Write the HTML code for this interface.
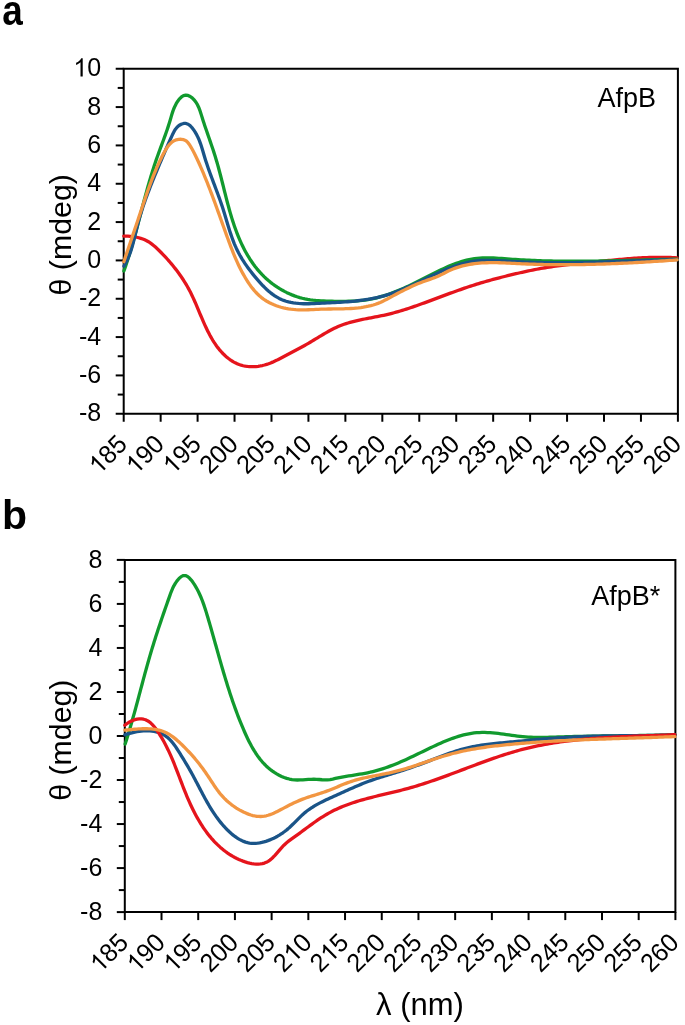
<!DOCTYPE html>
<html><head><meta charset="utf-8"><style>
html,body{margin:0;padding:0;background:#fff;}
svg{display:block;}
#w{width:685px;height:1025px;overflow:hidden;will-change:transform;}
text{font-family:"Liberation Sans", sans-serif;fill:#000;}
.t{font-size:25px;}
.n{font-size:27px;}
.T{font-size:30.3px;}
.X{font-size:31px;}
.L{font-size:41px;font-weight:bold;}
</style></head><body>
<div id="w"><svg width="685" height="1025" viewBox="0 0 685 1025">
<path d="M123.70,68.75 H677.90 V413.75 H123.70 Z" fill="none" stroke="#000" stroke-width="2"/>
<line x1="115.70" y1="413.75" x2="123.70" y2="413.75" stroke="#000" stroke-width="2"/>
<line x1="117.70" y1="394.58" x2="123.70" y2="394.58" stroke="#000" stroke-width="2"/>
<line x1="115.70" y1="375.42" x2="123.70" y2="375.42" stroke="#000" stroke-width="2"/>
<line x1="117.70" y1="356.25" x2="123.70" y2="356.25" stroke="#000" stroke-width="2"/>
<line x1="115.70" y1="337.08" x2="123.70" y2="337.08" stroke="#000" stroke-width="2"/>
<line x1="117.70" y1="317.92" x2="123.70" y2="317.92" stroke="#000" stroke-width="2"/>
<line x1="115.70" y1="298.75" x2="123.70" y2="298.75" stroke="#000" stroke-width="2"/>
<line x1="117.70" y1="279.58" x2="123.70" y2="279.58" stroke="#000" stroke-width="2"/>
<line x1="115.70" y1="260.42" x2="123.70" y2="260.42" stroke="#000" stroke-width="2"/>
<line x1="117.70" y1="241.25" x2="123.70" y2="241.25" stroke="#000" stroke-width="2"/>
<line x1="115.70" y1="222.08" x2="123.70" y2="222.08" stroke="#000" stroke-width="2"/>
<line x1="117.70" y1="202.92" x2="123.70" y2="202.92" stroke="#000" stroke-width="2"/>
<line x1="115.70" y1="183.75" x2="123.70" y2="183.75" stroke="#000" stroke-width="2"/>
<line x1="117.70" y1="164.58" x2="123.70" y2="164.58" stroke="#000" stroke-width="2"/>
<line x1="115.70" y1="145.42" x2="123.70" y2="145.42" stroke="#000" stroke-width="2"/>
<line x1="117.70" y1="126.25" x2="123.70" y2="126.25" stroke="#000" stroke-width="2"/>
<line x1="115.70" y1="107.08" x2="123.70" y2="107.08" stroke="#000" stroke-width="2"/>
<line x1="117.70" y1="87.92" x2="123.70" y2="87.92" stroke="#000" stroke-width="2"/>
<line x1="115.70" y1="68.75" x2="123.70" y2="68.75" stroke="#000" stroke-width="2"/>
<line x1="123.70" y1="413.75" x2="123.70" y2="421.75" stroke="#000" stroke-width="2"/>
<line x1="160.65" y1="413.75" x2="160.65" y2="421.75" stroke="#000" stroke-width="2"/>
<line x1="197.59" y1="413.75" x2="197.59" y2="421.75" stroke="#000" stroke-width="2"/>
<line x1="234.54" y1="413.75" x2="234.54" y2="421.75" stroke="#000" stroke-width="2"/>
<line x1="271.49" y1="413.75" x2="271.49" y2="421.75" stroke="#000" stroke-width="2"/>
<line x1="308.43" y1="413.75" x2="308.43" y2="421.75" stroke="#000" stroke-width="2"/>
<line x1="345.38" y1="413.75" x2="345.38" y2="421.75" stroke="#000" stroke-width="2"/>
<line x1="382.33" y1="413.75" x2="382.33" y2="421.75" stroke="#000" stroke-width="2"/>
<line x1="419.27" y1="413.75" x2="419.27" y2="421.75" stroke="#000" stroke-width="2"/>
<line x1="456.22" y1="413.75" x2="456.22" y2="421.75" stroke="#000" stroke-width="2"/>
<line x1="493.17" y1="413.75" x2="493.17" y2="421.75" stroke="#000" stroke-width="2"/>
<line x1="530.11" y1="413.75" x2="530.11" y2="421.75" stroke="#000" stroke-width="2"/>
<line x1="567.06" y1="413.75" x2="567.06" y2="421.75" stroke="#000" stroke-width="2"/>
<line x1="604.01" y1="413.75" x2="604.01" y2="421.75" stroke="#000" stroke-width="2"/>
<line x1="640.95" y1="413.75" x2="640.95" y2="421.75" stroke="#000" stroke-width="2"/>
<line x1="677.90" y1="413.75" x2="677.90" y2="421.75" stroke="#000" stroke-width="2"/>
<g transform="translate(101.20 421.45) scale(1 1.035) translate(-101.20 -421.45)"><text class="t" x="101.20" y="421.45" text-anchor="end" style="font-size:25px">-8</text></g>
<g transform="translate(101.20 383.12) scale(1 1.035) translate(-101.20 -383.12)"><text class="t" x="101.20" y="383.12" text-anchor="end" style="font-size:25px">-6</text></g>
<g transform="translate(101.20 344.78) scale(1 1.035) translate(-101.20 -344.78)"><text class="t" x="101.20" y="344.78" text-anchor="end" style="font-size:25px">-4</text></g>
<g transform="translate(101.20 306.45) scale(1 1.035) translate(-101.20 -306.45)"><text class="t" x="101.20" y="306.45" text-anchor="end" style="font-size:25px">-2</text></g>
<g transform="translate(101.20 268.12) scale(1 1.035) translate(-101.20 -268.12)"><text class="t" x="101.20" y="268.12" text-anchor="end" style="font-size:25px">0</text></g>
<g transform="translate(101.20 229.78) scale(1 1.035) translate(-101.20 -229.78)"><text class="t" x="101.20" y="229.78" text-anchor="end" style="font-size:25px">2</text></g>
<g transform="translate(101.20 191.45) scale(1 1.035) translate(-101.20 -191.45)"><text class="t" x="101.20" y="191.45" text-anchor="end" style="font-size:25px">4</text></g>
<g transform="translate(101.20 153.12) scale(1 1.035) translate(-101.20 -153.12)"><text class="t" x="101.20" y="153.12" text-anchor="end" style="font-size:25px">6</text></g>
<g transform="translate(101.20 114.78) scale(1 1.035) translate(-101.20 -114.78)"><text class="t" x="101.20" y="114.78" text-anchor="end" style="font-size:25px">8</text></g>
<g transform="translate(101.20 76.45) scale(1 1.035) translate(-101.20 -76.45)"><text class="t" x="101.20" y="76.45" text-anchor="end" style="font-size:25px"> 0</text><path d="M763 0H583V1147Q518 1085 412 1023Q306 961 222 930V1104Q373 1175 486 1276Q599 1377 646 1472H763Z" transform="translate(73.392 76.450) scale(0.01221 -0.01194)"/></g>
<g transform="rotate(-45 128.70 445.75)"><g transform="translate(128.70 445.75) scale(1 1.035) translate(-128.70 -445.75)"><text class="t" x="128.70" y="445.75" text-anchor="end" style="font-size:25px"> 85</text><path d="M763 0H583V1147Q518 1085 412 1023Q306 961 222 930V1104Q373 1175 486 1276Q599 1377 646 1472H763Z" transform="translate(86.989 445.750) scale(0.01221 -0.01194)"/></g></g>
<g transform="rotate(-45 165.65 445.75)"><g transform="translate(165.65 445.75) scale(1 1.035) translate(-165.65 -445.75)"><text class="t" x="165.65" y="445.75" text-anchor="end" style="font-size:25px"> 90</text><path d="M763 0H583V1147Q518 1085 412 1023Q306 961 222 930V1104Q373 1175 486 1276Q599 1377 646 1472H763Z" transform="translate(123.935 445.750) scale(0.01221 -0.01194)"/></g></g>
<g transform="rotate(-45 202.59 445.75)"><g transform="translate(202.59 445.75) scale(1 1.035) translate(-202.59 -445.75)"><text class="t" x="202.59" y="445.75" text-anchor="end" style="font-size:25px"> 95</text><path d="M763 0H583V1147Q518 1085 412 1023Q306 961 222 930V1104Q373 1175 486 1276Q599 1377 646 1472H763Z" transform="translate(160.882 445.750) scale(0.01221 -0.01194)"/></g></g>
<g transform="rotate(-45 239.54 445.75)"><g transform="translate(239.54 445.75) scale(1 1.035) translate(-239.54 -445.75)"><text class="t" x="239.54" y="445.75" text-anchor="end" style="font-size:25px">200</text></g></g>
<g transform="rotate(-45 276.49 445.75)"><g transform="translate(276.49 445.75) scale(1 1.035) translate(-276.49 -445.75)"><text class="t" x="276.49" y="445.75" text-anchor="end" style="font-size:25px">205</text></g></g>
<g transform="rotate(-45 313.43 445.75)"><g transform="translate(313.43 445.75) scale(1 1.035) translate(-313.43 -445.75)"><text class="t" x="313.43" y="445.75" text-anchor="end" style="font-size:25px">2 0</text><path d="M763 0H583V1147Q518 1085 412 1023Q306 961 222 930V1104Q373 1175 486 1276Q599 1377 646 1472H763Z" transform="translate(285.626 445.750) scale(0.01221 -0.01194)"/></g></g>
<g transform="rotate(-45 350.38 445.75)"><g transform="translate(350.38 445.75) scale(1 1.035) translate(-350.38 -445.75)"><text class="t" x="350.38" y="445.75" text-anchor="end" style="font-size:25px">2 5</text><path d="M763 0H583V1147Q518 1085 412 1023Q306 961 222 930V1104Q373 1175 486 1276Q599 1377 646 1472H763Z" transform="translate(322.572 445.750) scale(0.01221 -0.01194)"/></g></g>
<g transform="rotate(-45 387.33 445.75)"><g transform="translate(387.33 445.75) scale(1 1.035) translate(-387.33 -445.75)"><text class="t" x="387.33" y="445.75" text-anchor="end" style="font-size:25px">220</text></g></g>
<g transform="rotate(-45 424.27 445.75)"><g transform="translate(424.27 445.75) scale(1 1.035) translate(-424.27 -445.75)"><text class="t" x="424.27" y="445.75" text-anchor="end" style="font-size:25px">225</text></g></g>
<g transform="rotate(-45 461.22 445.75)"><g transform="translate(461.22 445.75) scale(1 1.035) translate(-461.22 -445.75)"><text class="t" x="461.22" y="445.75" text-anchor="end" style="font-size:25px">230</text></g></g>
<g transform="rotate(-45 498.17 445.75)"><g transform="translate(498.17 445.75) scale(1 1.035) translate(-498.17 -445.75)"><text class="t" x="498.17" y="445.75" text-anchor="end" style="font-size:25px">235</text></g></g>
<g transform="rotate(-45 535.11 445.75)"><g transform="translate(535.11 445.75) scale(1 1.035) translate(-535.11 -445.75)"><text class="t" x="535.11" y="445.75" text-anchor="end" style="font-size:25px">240</text></g></g>
<g transform="rotate(-45 572.06 445.75)"><g transform="translate(572.06 445.75) scale(1 1.035) translate(-572.06 -445.75)"><text class="t" x="572.06" y="445.75" text-anchor="end" style="font-size:25px">245</text></g></g>
<g transform="rotate(-45 609.01 445.75)"><g transform="translate(609.01 445.75) scale(1 1.035) translate(-609.01 -445.75)"><text class="t" x="609.01" y="445.75" text-anchor="end" style="font-size:25px">250</text></g></g>
<g transform="rotate(-45 645.95 445.75)"><g transform="translate(645.95 445.75) scale(1 1.035) translate(-645.95 -445.75)"><text class="t" x="645.95" y="445.75" text-anchor="end" style="font-size:25px">255</text></g></g>
<g transform="rotate(-45 682.90 445.75)"><g transform="translate(682.90 445.75) scale(1 1.035) translate(-682.90 -445.75)"><text class="t" x="682.90" y="445.75" text-anchor="end" style="font-size:25px">260</text></g></g>
<text class="n" x="597.5" y="107.4">AfpB</text>
<path d="M123.77,236.09 L125.89,236.10 L128.03,236.18 L130.17,236.33 L132.33,236.55 L134.47,236.86 L136.59,237.25 L138.69,237.74 L140.76,238.32 L142.78,239.01 L144.74,239.80 L146.64,240.71 L148.47,241.74 L150.23,242.88 L151.93,244.11 L153.58,245.43 L155.18,246.81 L156.75,248.25 L158.30,249.73 L159.82,251.23 L161.33,252.75 L162.83,254.29 L164.30,255.85 L165.77,257.42 L167.21,259.01 L168.63,260.62 L170.04,262.24 L171.43,263.88 L172.80,265.53 L174.14,267.20 L175.47,268.87 L176.77,270.57 L178.05,272.28 L179.30,274.00 L180.53,275.74 L181.74,277.49 L182.92,279.26 L184.07,281.05 L185.19,282.85 L186.29,284.67 L187.35,286.50 L188.39,288.35 L189.39,290.22 L190.37,292.10 L191.31,294.00 L192.24,295.91 L193.14,297.84 L194.02,299.77 L194.88,301.72 L195.74,303.67 L196.58,305.63 L197.41,307.60 L198.24,309.57 L199.07,311.54 L199.89,313.52 L200.72,315.50 L201.56,317.47 L202.40,319.45 L203.25,321.42 L204.12,323.39 L205.01,325.35 L205.91,327.30 L206.84,329.25 L207.79,331.19 L208.77,333.11 L209.77,335.02 L210.81,336.90 L211.89,338.77 L212.99,340.61 L214.14,342.42 L215.33,344.19 L216.56,345.94 L217.83,347.64 L219.15,349.31 L220.52,350.93 L221.94,352.51 L223.42,354.04 L224.95,355.51 L226.54,356.93 L228.18,358.28 L229.88,359.55 L231.63,360.75 L233.43,361.85 L235.28,362.86 L237.18,363.76 L239.13,364.55 L241.13,365.21 L243.17,365.75 L245.25,366.17 L247.36,366.47 L249.50,366.65 L251.66,366.72 L253.82,366.68 L255.99,366.54 L258.16,366.29 L260.31,365.95 L262.44,365.52 L264.55,365.00 L266.62,364.40 L268.66,363.71 L270.65,362.96 L272.60,362.14 L274.53,361.27 L276.44,360.36 L278.32,359.41 L280.20,358.44 L282.07,357.46 L283.95,356.47 L285.82,355.49 L287.70,354.51 L289.59,353.52 L291.47,352.54 L293.36,351.55 L295.24,350.55 L297.12,349.55 L299.01,348.54 L300.89,347.52 L302.76,346.49 L304.63,345.45 L306.49,344.39 L308.35,343.32 L310.20,342.23 L312.05,341.13 L313.89,340.02 L315.72,338.91 L317.56,337.79 L319.39,336.68 L321.23,335.57 L323.07,334.47 L324.91,333.39 L326.77,332.32 L328.63,331.28 L330.50,330.27 L332.38,329.29 L334.28,328.34 L336.19,327.43 L338.12,326.57 L340.06,325.75 L342.03,324.98 L344.02,324.27 L346.02,323.59 L348.04,322.96 L350.08,322.37 L352.13,321.81 L354.19,321.28 L356.26,320.78 L358.35,320.31 L360.44,319.85 L362.54,319.42 L364.65,319.00 L366.76,318.59 L368.87,318.18 L370.99,317.78 L373.10,317.39 L375.22,316.98 L377.34,316.58 L379.45,316.16 L381.56,315.73 L383.66,315.29 L385.75,314.82 L387.84,314.33 L389.92,313.83 L391.99,313.30 L394.06,312.75 L396.12,312.19 L398.17,311.61 L400.22,311.01 L402.26,310.39 L404.30,309.76 L406.33,309.12 L408.36,308.46 L410.38,307.79 L412.40,307.11 L414.41,306.42 L416.43,305.72 L418.43,305.01 L420.44,304.29 L422.45,303.57 L424.45,302.84 L426.45,302.10 L428.45,301.36 L430.45,300.62 L432.44,299.87 L434.44,299.13 L436.44,298.38 L438.43,297.63 L440.43,296.88 L442.43,296.13 L444.43,295.39 L446.43,294.65 L448.43,293.91 L450.44,293.17 L452.44,292.44 L454.45,291.72 L456.46,291.00 L458.47,290.28 L460.48,289.57 L462.50,288.87 L464.52,288.18 L466.54,287.49 L468.57,286.81 L470.59,286.14 L472.62,285.48 L474.66,284.83 L476.70,284.20 L478.74,283.57 L480.79,282.95 L482.84,282.34 L484.89,281.74 L486.94,281.16 L489.00,280.58 L491.06,280.01 L493.12,279.44 L495.19,278.89 L497.25,278.34 L499.32,277.80 L501.39,277.27 L503.46,276.75 L505.53,276.23 L507.61,275.72 L509.68,275.21 L511.76,274.71 L513.83,274.21 L515.91,273.72 L517.98,273.24 L520.06,272.76 L522.14,272.29 L524.21,271.83 L526.29,271.38 L528.38,270.93 L530.46,270.50 L532.54,270.07 L534.63,269.65 L536.72,269.25 L538.81,268.85 L540.91,268.47 L543.00,268.10 L545.10,267.75 L547.20,267.40 L549.31,267.07 L551.42,266.76 L553.53,266.45 L555.64,266.16 L557.76,265.88 L559.88,265.61 L562.00,265.35 L564.12,265.10 L566.25,264.86 L568.37,264.62 L570.50,264.39 L572.63,264.16 L574.76,263.94 L576.89,263.73 L579.02,263.51 L581.15,263.30 L583.28,263.09 L585.41,262.88 L587.54,262.66 L589.66,262.45 L591.79,262.24 L593.92,262.02 L596.04,261.80 L598.17,261.58 L600.29,261.36 L602.42,261.15 L604.54,260.93 L606.67,260.71 L608.79,260.50 L610.91,260.28 L613.03,260.08 L615.16,259.87 L617.28,259.67 L619.40,259.47 L621.52,259.28 L623.65,259.10 L625.77,258.92 L627.89,258.74 L630.02,258.58 L632.14,258.42 L634.27,258.27 L636.39,258.13 L638.52,258.00 L640.65,257.88 L642.77,257.77 L644.90,257.67 L647.03,257.58 L649.17,257.50 L651.30,257.44 L653.43,257.39 L655.57,257.35 L657.71,257.33 L659.84,257.32 L661.98,257.33 L664.13,257.35 L666.27,257.39 L668.42,257.44 L670.56,257.52 L672.71,257.61 L674.86,257.72 L677.02,257.85" fill="none" stroke="#e5141c" stroke-width="3.3" stroke-linejoin="round" stroke-linecap="round"/>
<path d="M123.90,271.05 L124.81,268.45 L125.69,265.86 L126.56,263.25 L127.41,260.65 L128.25,258.03 L129.06,255.42 L129.87,252.80 L130.66,250.18 L131.43,247.55 L132.20,244.92 L132.95,242.29 L133.69,239.65 L134.43,237.02 L135.15,234.38 L135.87,231.74 L136.58,229.09 L137.29,226.45 L137.99,223.80 L138.69,221.16 L139.38,218.51 L140.08,215.86 L140.77,213.22 L141.47,210.57 L142.16,207.92 L142.86,205.28 L143.56,202.63 L144.26,199.99 L144.97,197.34 L145.69,194.70 L146.41,192.06 L147.14,189.42 L147.88,186.79 L148.63,184.16 L149.39,181.53 L150.16,178.90 L150.94,176.28 L151.74,173.66 L152.55,171.04 L153.38,168.43 L154.22,165.82 L155.08,163.22 L155.96,160.62 L156.86,158.02 L157.78,155.43 L158.71,152.85 L159.66,150.27 L160.61,147.69 L161.57,145.12 L162.52,142.55 L163.47,139.98 L164.41,137.41 L165.34,134.84 L166.25,132.27 L167.14,129.71 L168.01,127.13 L168.84,124.56 L169.64,121.99 L170.40,119.41 L171.14,116.83 L171.90,114.24 L172.74,111.63 L173.70,109.01 L174.83,106.38 L176.18,103.73 L177.76,101.16 L179.53,98.85 L181.46,96.96 L183.54,95.65 L185.74,95.11 L188.01,95.44 L190.27,96.52 L192.44,98.17 L194.43,100.23 L196.14,102.52 L197.56,104.94 L198.75,107.47 L199.76,110.06 L200.65,112.71 L201.48,115.37 L202.31,118.03 L203.15,120.67 L204.00,123.29 L204.87,125.90 L205.75,128.50 L206.64,131.08 L207.53,133.66 L208.42,136.23 L209.31,138.80 L210.20,141.37 L211.09,143.93 L211.96,146.50 L212.83,149.07 L213.68,151.64 L214.51,154.22 L215.32,156.82 L216.11,159.42 L216.88,162.04 L217.63,164.66 L218.37,167.30 L219.09,169.95 L219.79,172.60 L220.48,175.26 L221.17,177.92 L221.85,180.59 L222.52,183.26 L223.19,185.93 L223.86,188.61 L224.53,191.29 L225.20,193.96 L225.88,196.64 L226.57,199.31 L227.26,201.98 L227.97,204.64 L228.69,207.30 L229.42,209.95 L230.18,212.59 L230.95,215.23 L231.74,217.86 L232.56,220.47 L233.41,223.07 L234.28,225.67 L235.18,228.24 L236.11,230.81 L237.08,233.35 L238.08,235.88 L239.12,238.40 L240.20,240.89 L241.33,243.37 L242.49,245.82 L243.71,248.26 L244.97,250.67 L246.28,253.05 L247.64,255.41 L249.06,257.73 L250.52,260.03 L252.05,262.28 L253.62,264.50 L255.26,266.68 L256.95,268.82 L258.71,270.91 L260.52,272.95 L262.40,274.93 L264.34,276.87 L266.35,278.74 L268.42,280.56 L270.56,282.32 L272.75,284.01 L274.99,285.63 L277.29,287.18 L279.64,288.66 L282.03,290.07 L284.46,291.39 L286.92,292.64 L289.43,293.80 L291.96,294.88 L294.52,295.86 L297.11,296.76 L299.71,297.56 L302.33,298.26 L304.97,298.87 L307.62,299.38 L310.28,299.82 L312.95,300.17 L315.64,300.46 L318.34,300.69 L321.05,300.87 L323.77,301.00 L326.50,301.10 L329.24,301.18 L331.99,301.23 L334.75,301.28 L337.52,301.32 L340.29,301.34 L343.07,301.34 L345.84,301.31 L348.62,301.26 L351.39,301.17 L354.15,301.04 L356.91,300.86 L359.65,300.64 L362.38,300.36 L365.09,300.03 L367.79,299.63 L370.46,299.16 L373.12,298.63 L375.75,298.04 L378.37,297.38 L380.97,296.67 L383.56,295.90 L386.13,295.09 L388.69,294.22 L391.23,293.31 L393.76,292.36 L396.29,291.36 L398.80,290.33 L401.30,289.26 L403.80,288.16 L406.29,287.03 L408.78,285.88 L411.26,284.70 L413.73,283.49 L416.21,282.27 L418.68,281.04 L421.15,279.79 L423.63,278.53 L426.10,277.27 L428.58,276.00 L431.06,274.73 L433.55,273.47 L436.03,272.23 L438.53,271.00 L441.03,269.80 L443.54,268.62 L446.05,267.48 L448.58,266.38 L451.11,265.33 L453.65,264.32 L456.21,263.37 L458.77,262.47 L461.35,261.65 L463.94,260.89 L466.55,260.21 L469.16,259.61 L471.80,259.10 L474.45,258.68 L477.12,258.35 L479.80,258.12 L482.50,257.97 L485.21,257.89 L487.93,257.88 L490.66,257.92 L493.40,258.01 L496.14,258.14 L498.90,258.31 L501.65,258.49 L504.41,258.70 L507.17,258.90 L509.93,259.11 L512.69,259.30 L515.44,259.49 L518.20,259.66 L520.95,259.82 L523.70,259.97 L526.45,260.12 L529.19,260.25 L531.94,260.37 L534.68,260.49 L537.43,260.59 L540.17,260.69 L542.91,260.78 L545.65,260.85 L548.39,260.93 L551.13,260.99 L553.86,261.04 L556.60,261.09 L559.33,261.13 L562.07,261.16 L564.80,261.19 L567.53,261.21 L570.27,261.22 L573.00,261.23 L575.73,261.23 L578.46,261.23 L581.19,261.22 L583.92,261.20 L586.65,261.18 L589.38,261.16 L592.11,261.13 L594.84,261.09 L597.57,261.05 L600.30,261.01 L603.03,260.97 L605.76,260.92 L608.50,260.86 L611.23,260.81 L613.96,260.75 L616.69,260.69 L619.42,260.62 L622.16,260.55 L624.89,260.49 L627.63,260.42 L630.36,260.35 L633.10,260.27 L635.84,260.20 L638.58,260.12 L641.32,260.05 L644.06,259.97 L646.80,259.90 L649.54,259.82 L652.29,259.75 L655.03,259.67 L657.78,259.60 L660.53,259.52 L663.28,259.45 L666.03,259.38 L668.79,259.31 L671.54,259.24 L674.30,259.18 L677.06,259.11" fill="none" stroke="#119a2e" stroke-width="3.3" stroke-linejoin="round" stroke-linecap="round"/>
<path d="M123.93,266.10 L125.25,263.85 L126.46,261.57 L127.57,259.25 L128.59,256.90 L129.53,254.52 L130.41,252.12 L131.21,249.70 L131.97,247.25 L132.67,244.79 L133.34,242.32 L133.98,239.84 L134.59,237.34 L135.19,234.84 L135.79,232.34 L136.39,229.83 L137.00,227.33 L137.63,224.83 L138.29,222.34 L138.97,219.85 L139.68,217.38 L140.42,214.90 L141.17,212.44 L141.95,209.98 L142.75,207.53 L143.57,205.09 L144.41,202.65 L145.26,200.22 L146.14,197.79 L147.02,195.37 L147.92,192.96 L148.84,190.56 L149.77,188.15 L150.70,185.76 L151.65,183.37 L152.61,180.99 L153.57,178.61 L154.54,176.24 L155.51,173.87 L156.49,171.51 L157.47,169.15 L158.46,166.80 L159.45,164.45 L160.44,162.10 L161.43,159.76 L162.44,157.42 L163.44,155.07 L164.46,152.72 L165.48,150.37 L166.51,148.02 L167.55,145.66 L168.60,143.29 L169.66,140.91 L170.73,138.53 L171.82,136.13 L172.92,133.74 L174.11,131.40 L175.46,129.20 L177.06,127.21 L178.97,125.51 L181.22,124.21 L183.62,123.47 L185.97,123.47 L188.14,124.27 L190.12,125.69 L191.92,127.54 L193.55,129.64 L195.01,131.83 L196.33,134.08 L197.52,136.39 L198.60,138.74 L199.58,141.14 L200.48,143.57 L201.31,146.03 L202.09,148.51 L202.84,151.00 L203.57,153.49 L204.30,155.97 L205.05,158.45 L205.82,160.91 L206.62,163.35 L207.43,165.78 L208.27,168.20 L209.12,170.61 L209.98,173.01 L210.85,175.41 L211.74,177.79 L212.63,180.18 L213.53,182.56 L214.43,184.94 L215.33,187.32 L216.22,189.71 L217.12,192.10 L218.00,194.49 L218.88,196.89 L219.74,199.30 L220.60,201.71 L221.43,204.14 L222.25,206.58 L223.05,209.04 L223.83,211.51 L224.59,213.99 L225.34,216.48 L226.09,218.97 L226.83,221.47 L227.58,223.97 L228.34,226.46 L229.11,228.94 L229.89,231.42 L230.70,233.88 L231.54,236.32 L232.41,238.75 L233.31,241.15 L234.25,243.53 L235.24,245.88 L236.28,248.20 L237.38,250.48 L238.53,252.74 L239.73,254.96 L240.98,257.15 L242.28,259.32 L243.63,261.46 L245.02,263.57 L246.46,265.67 L247.94,267.75 L249.46,269.81 L251.03,271.85 L252.63,273.88 L254.26,275.90 L255.94,277.91 L257.64,279.91 L259.38,281.90 L261.16,283.85 L262.98,285.77 L264.84,287.63 L266.74,289.44 L268.68,291.17 L270.67,292.82 L272.71,294.38 L274.80,295.84 L276.95,297.18 L279.14,298.40 L281.40,299.48 L283.71,300.42 L286.07,301.22 L288.48,301.89 L290.94,302.44 L293.43,302.88 L295.96,303.22 L298.52,303.47 L301.11,303.64 L303.71,303.74 L306.33,303.77 L308.97,303.75 L311.60,303.69 L314.24,303.59 L316.87,303.47 L319.49,303.34 L322.10,303.20 L324.70,303.06 L327.27,302.93 L329.83,302.80 L332.37,302.67 L334.91,302.54 L337.44,302.40 L339.96,302.25 L342.48,302.09 L345.01,301.92 L347.53,301.73 L350.06,301.52 L352.60,301.29 L355.15,301.03 L357.70,300.75 L360.25,300.44 L362.80,300.10 L365.36,299.73 L367.91,299.32 L370.45,298.88 L372.99,298.40 L375.51,297.88 L378.03,297.32 L380.53,296.72 L383.02,296.08 L385.50,295.38 L387.95,294.64 L390.39,293.86 L392.81,293.03 L395.22,292.17 L397.61,291.27 L399.99,290.33 L402.36,289.36 L404.72,288.37 L407.08,287.35 L409.42,286.32 L411.76,285.26 L414.10,284.18 L416.43,283.10 L418.76,282.00 L421.09,280.89 L423.41,279.78 L425.74,278.67 L428.08,277.56 L430.41,276.46 L432.75,275.36 L435.10,274.27 L437.46,273.19 L439.82,272.13 L442.19,271.09 L444.57,270.07 L446.96,269.08 L449.37,268.12 L451.78,267.19 L454.20,266.31 L456.63,265.47 L459.07,264.69 L461.52,263.95 L463.99,263.28 L466.46,262.66 L468.94,262.11 L471.44,261.64 L473.94,261.24 L476.46,260.91 L478.99,260.67 L481.53,260.49 L484.08,260.38 L486.63,260.33 L489.19,260.33 L491.76,260.37 L494.33,260.44 L496.91,260.55 L499.49,260.68 L502.08,260.83 L504.66,260.99 L507.25,261.15 L509.84,261.31 L512.42,261.46 L515.01,261.60 L517.59,261.73 L520.17,261.85 L522.75,261.96 L525.33,262.06 L527.91,262.16 L530.49,262.24 L533.06,262.31 L535.64,262.38 L538.21,262.44 L540.79,262.49 L543.36,262.53 L545.93,262.57 L548.51,262.60 L551.08,262.62 L553.65,262.64 L556.22,262.64 L558.79,262.65 L561.36,262.64 L563.93,262.63 L566.50,262.61 L569.06,262.59 L571.63,262.57 L574.20,262.53 L576.76,262.50 L579.33,262.45 L581.90,262.41 L584.46,262.36 L587.03,262.30 L589.60,262.25 L592.16,262.18 L594.73,262.12 L597.29,262.05 L599.86,261.98 L602.43,261.91 L604.99,261.83 L607.56,261.75 L610.13,261.67 L612.69,261.59 L615.26,261.50 L617.83,261.42 L620.39,261.33 L622.96,261.24 L625.53,261.15 L628.10,261.07 L630.67,260.98 L633.24,260.89 L635.81,260.80 L638.38,260.71 L640.95,260.62 L643.52,260.53 L646.10,260.45 L648.67,260.36 L651.24,260.28 L653.82,260.19 L656.39,260.11 L658.97,260.03 L661.55,259.96 L664.13,259.88 L666.71,259.81 L669.29,259.74 L671.87,259.68 L674.45,259.62 L677.04,259.56" fill="none" stroke="#1a5488" stroke-width="3.3" stroke-linejoin="round" stroke-linecap="round"/>
<path d="M123.81,261.75 L124.59,259.43 L125.37,257.10 L126.16,254.76 L126.96,252.41 L127.75,250.05 L128.55,247.69 L129.36,245.31 L130.16,242.94 L130.97,240.55 L131.78,238.16 L132.59,235.77 L133.40,233.38 L134.21,230.98 L135.02,228.59 L135.83,226.19 L136.64,223.80 L137.45,221.41 L138.25,219.02 L139.05,216.64 L139.85,214.26 L140.64,211.89 L141.43,209.53 L142.22,207.17 L143.00,204.82 L143.78,202.47 L144.57,200.14 L145.36,197.80 L146.15,195.48 L146.96,193.15 L147.77,190.83 L148.59,188.51 L149.42,186.20 L150.27,183.89 L151.14,181.57 L152.02,179.26 L152.92,176.95 L153.85,174.64 L154.79,172.33 L155.77,170.02 L156.76,167.71 L157.79,165.39 L158.85,163.08 L159.94,160.75 L161.06,158.43 L162.22,156.10 L163.42,153.77 L164.67,151.46 L165.98,149.22 L167.38,147.10 L168.89,145.13 L170.51,143.38 L172.27,141.87 L174.19,140.66 L176.29,139.79 L178.58,139.31 L181.07,139.27 L183.69,139.72 L186.03,140.78 L187.85,142.46 L189.32,144.49 L190.66,146.62 L191.93,148.79 L193.14,150.99 L194.30,153.21 L195.41,155.45 L196.49,157.71 L197.55,159.98 L198.59,162.26 L199.62,164.54 L200.63,166.83 L201.63,169.12 L202.61,171.42 L203.58,173.72 L204.54,176.03 L205.49,178.34 L206.43,180.66 L207.36,182.98 L208.28,185.31 L209.19,187.64 L210.09,189.97 L210.98,192.31 L211.87,194.65 L212.75,196.99 L213.62,199.33 L214.49,201.68 L215.35,204.03 L216.21,206.38 L217.06,208.73 L217.91,211.08 L218.76,213.43 L219.60,215.78 L220.45,218.14 L221.29,220.49 L222.13,222.84 L222.98,225.20 L223.82,227.55 L224.66,229.90 L225.51,232.25 L226.36,234.60 L227.21,236.95 L228.07,239.29 L228.93,241.63 L229.80,243.97 L230.68,246.30 L231.57,248.63 L232.48,250.95 L233.41,253.27 L234.36,255.57 L235.33,257.87 L236.32,260.15 L237.34,262.43 L238.39,264.69 L239.47,266.94 L240.59,269.18 L241.74,271.40 L242.93,273.61 L244.16,275.80 L245.43,277.97 L246.75,280.13 L248.12,282.26 L249.54,284.36 L251.02,286.41 L252.55,288.42 L254.15,290.36 L255.81,292.23 L257.55,294.02 L259.35,295.73 L261.23,297.34 L263.19,298.84 L265.22,300.24 L267.32,301.54 L269.49,302.73 L271.71,303.83 L273.98,304.82 L276.31,305.72 L278.67,306.53 L281.07,307.24 L283.49,307.86 L285.94,308.39 L288.42,308.84 L290.90,309.20 L293.39,309.47 L295.89,309.66 L298.39,309.79 L300.90,309.85 L303.41,309.86 L305.92,309.83 L308.43,309.76 L310.93,309.67 L313.44,309.56 L315.95,309.45 L318.45,309.33 L320.95,309.22 L323.44,309.13 L325.93,309.07 L328.41,309.02 L330.89,308.98 L333.37,308.95 L335.85,308.92 L338.34,308.89 L340.82,308.85 L343.32,308.79 L345.81,308.71 L348.32,308.61 L350.83,308.48 L353.36,308.31 L355.88,308.10 L358.40,307.85 L360.92,307.54 L363.43,307.17 L365.91,306.73 L368.38,306.22 L370.82,305.64 L373.22,304.97 L375.59,304.21 L377.92,303.36 L380.21,302.42 L382.46,301.40 L384.69,300.33 L386.90,299.21 L389.11,298.05 L391.30,296.86 L393.50,295.67 L395.70,294.48 L397.91,293.30 L400.14,292.13 L402.38,290.98 L404.62,289.85 L406.88,288.73 L409.15,287.65 L411.42,286.59 L413.70,285.56 L415.99,284.56 L418.29,283.60 L420.59,282.67 L422.89,281.79 L425.21,280.95 L427.52,280.14 L429.84,279.34 L432.16,278.52 L434.47,277.66 L436.79,276.73 L439.09,275.71 L441.40,274.60 L443.70,273.43 L446.00,272.25 L448.31,271.10 L450.64,270.03 L452.98,269.05 L455.34,268.15 L457.70,267.34 L460.08,266.61 L462.48,265.95 L464.88,265.36 L467.30,264.84 L469.72,264.39 L472.16,264.00 L474.60,263.66 L477.06,263.38 L479.52,263.15 L481.99,262.97 L484.47,262.84 L486.95,262.74 L489.44,262.68 L491.93,262.66 L494.43,262.67 L496.94,262.70 L499.44,262.76 L501.95,262.84 L504.47,262.94 L506.98,263.04 L509.50,263.16 L512.01,263.29 L514.53,263.42 L517.05,263.55 L519.57,263.67 L522.08,263.79 L524.59,263.90 L527.11,264.00 L529.62,264.10 L532.13,264.19 L534.63,264.27 L537.14,264.34 L539.65,264.41 L542.15,264.47 L544.65,264.53 L547.16,264.57 L549.66,264.61 L552.16,264.64 L554.66,264.67 L557.16,264.69 L559.65,264.71 L562.15,264.71 L564.65,264.72 L567.14,264.71 L569.64,264.70 L572.13,264.68 L574.63,264.66 L577.12,264.63 L579.61,264.60 L582.11,264.56 L584.60,264.52 L587.09,264.47 L589.58,264.41 L592.07,264.36 L594.57,264.29 L597.06,264.22 L599.55,264.15 L602.04,264.07 L604.53,263.98 L607.02,263.89 L609.52,263.80 L612.01,263.70 L614.50,263.60 L616.99,263.50 L619.49,263.39 L621.98,263.27 L624.48,263.16 L626.97,263.03 L629.47,262.91 L631.96,262.78 L634.46,262.65 L636.96,262.51 L639.45,262.37 L641.95,262.23 L644.45,262.08 L646.95,261.93 L649.45,261.78 L651.96,261.63 L654.46,261.47 L656.97,261.31 L659.47,261.15 L661.98,260.98 L664.49,260.81 L667.00,260.64 L669.51,260.47 L672.02,260.30 L674.53,260.12 L677.05,259.94" fill="none" stroke="#f29642" stroke-width="3.3" stroke-linejoin="round" stroke-linecap="round"/>
<path d="M124.80,559.90 H675.40 V912.10 H124.80 Z" fill="none" stroke="#000" stroke-width="2"/>
<line x1="116.80" y1="912.10" x2="124.80" y2="912.10" stroke="#000" stroke-width="2"/>
<line x1="118.80" y1="890.09" x2="124.80" y2="890.09" stroke="#000" stroke-width="2"/>
<line x1="116.80" y1="868.08" x2="124.80" y2="868.08" stroke="#000" stroke-width="2"/>
<line x1="118.80" y1="846.06" x2="124.80" y2="846.06" stroke="#000" stroke-width="2"/>
<line x1="116.80" y1="824.05" x2="124.80" y2="824.05" stroke="#000" stroke-width="2"/>
<line x1="118.80" y1="802.04" x2="124.80" y2="802.04" stroke="#000" stroke-width="2"/>
<line x1="116.80" y1="780.02" x2="124.80" y2="780.02" stroke="#000" stroke-width="2"/>
<line x1="118.80" y1="758.01" x2="124.80" y2="758.01" stroke="#000" stroke-width="2"/>
<line x1="116.80" y1="736.00" x2="124.80" y2="736.00" stroke="#000" stroke-width="2"/>
<line x1="118.80" y1="713.99" x2="124.80" y2="713.99" stroke="#000" stroke-width="2"/>
<line x1="116.80" y1="691.98" x2="124.80" y2="691.98" stroke="#000" stroke-width="2"/>
<line x1="118.80" y1="669.96" x2="124.80" y2="669.96" stroke="#000" stroke-width="2"/>
<line x1="116.80" y1="647.95" x2="124.80" y2="647.95" stroke="#000" stroke-width="2"/>
<line x1="118.80" y1="625.94" x2="124.80" y2="625.94" stroke="#000" stroke-width="2"/>
<line x1="116.80" y1="603.92" x2="124.80" y2="603.92" stroke="#000" stroke-width="2"/>
<line x1="118.80" y1="581.91" x2="124.80" y2="581.91" stroke="#000" stroke-width="2"/>
<line x1="116.80" y1="559.90" x2="124.80" y2="559.90" stroke="#000" stroke-width="2"/>
<line x1="124.80" y1="912.10" x2="124.80" y2="920.10" stroke="#000" stroke-width="2"/>
<line x1="161.51" y1="912.10" x2="161.51" y2="920.10" stroke="#000" stroke-width="2"/>
<line x1="198.21" y1="912.10" x2="198.21" y2="920.10" stroke="#000" stroke-width="2"/>
<line x1="234.92" y1="912.10" x2="234.92" y2="920.10" stroke="#000" stroke-width="2"/>
<line x1="271.63" y1="912.10" x2="271.63" y2="920.10" stroke="#000" stroke-width="2"/>
<line x1="308.33" y1="912.10" x2="308.33" y2="920.10" stroke="#000" stroke-width="2"/>
<line x1="345.04" y1="912.10" x2="345.04" y2="920.10" stroke="#000" stroke-width="2"/>
<line x1="381.75" y1="912.10" x2="381.75" y2="920.10" stroke="#000" stroke-width="2"/>
<line x1="418.45" y1="912.10" x2="418.45" y2="920.10" stroke="#000" stroke-width="2"/>
<line x1="455.16" y1="912.10" x2="455.16" y2="920.10" stroke="#000" stroke-width="2"/>
<line x1="491.87" y1="912.10" x2="491.87" y2="920.10" stroke="#000" stroke-width="2"/>
<line x1="528.57" y1="912.10" x2="528.57" y2="920.10" stroke="#000" stroke-width="2"/>
<line x1="565.28" y1="912.10" x2="565.28" y2="920.10" stroke="#000" stroke-width="2"/>
<line x1="601.99" y1="912.10" x2="601.99" y2="920.10" stroke="#000" stroke-width="2"/>
<line x1="638.69" y1="912.10" x2="638.69" y2="920.10" stroke="#000" stroke-width="2"/>
<line x1="675.40" y1="912.10" x2="675.40" y2="920.10" stroke="#000" stroke-width="2"/>
<g transform="translate(102.30 919.80) scale(1 1.035) translate(-102.30 -919.80)"><text class="t" x="102.30" y="919.80" text-anchor="end" style="font-size:25px">-8</text></g>
<g transform="translate(102.30 875.78) scale(1 1.035) translate(-102.30 -875.78)"><text class="t" x="102.30" y="875.78" text-anchor="end" style="font-size:25px">-6</text></g>
<g transform="translate(102.30 831.75) scale(1 1.035) translate(-102.30 -831.75)"><text class="t" x="102.30" y="831.75" text-anchor="end" style="font-size:25px">-4</text></g>
<g transform="translate(102.30 787.73) scale(1 1.035) translate(-102.30 -787.73)"><text class="t" x="102.30" y="787.73" text-anchor="end" style="font-size:25px">-2</text></g>
<g transform="translate(102.30 743.70) scale(1 1.035) translate(-102.30 -743.70)"><text class="t" x="102.30" y="743.70" text-anchor="end" style="font-size:25px">0</text></g>
<g transform="translate(102.30 699.68) scale(1 1.035) translate(-102.30 -699.68)"><text class="t" x="102.30" y="699.68" text-anchor="end" style="font-size:25px">2</text></g>
<g transform="translate(102.30 655.65) scale(1 1.035) translate(-102.30 -655.65)"><text class="t" x="102.30" y="655.65" text-anchor="end" style="font-size:25px">4</text></g>
<g transform="translate(102.30 611.62) scale(1 1.035) translate(-102.30 -611.62)"><text class="t" x="102.30" y="611.62" text-anchor="end" style="font-size:25px">6</text></g>
<g transform="translate(102.30 567.60) scale(1 1.035) translate(-102.30 -567.60)"><text class="t" x="102.30" y="567.60" text-anchor="end" style="font-size:25px">8</text></g>
<g transform="rotate(-45 129.80 944.10)"><g transform="translate(129.80 944.10) scale(1 1.035) translate(-129.80 -944.10)"><text class="t" x="129.80" y="944.10" text-anchor="end" style="font-size:25px"> 85</text><path d="M763 0H583V1147Q518 1085 412 1023Q306 961 222 930V1104Q373 1175 486 1276Q599 1377 646 1472H763Z" transform="translate(88.089 944.100) scale(0.01221 -0.01194)"/></g></g>
<g transform="rotate(-45 166.51 944.10)"><g transform="translate(166.51 944.10) scale(1 1.035) translate(-166.51 -944.10)"><text class="t" x="166.51" y="944.10" text-anchor="end" style="font-size:25px"> 90</text><path d="M763 0H583V1147Q518 1085 412 1023Q306 961 222 930V1104Q373 1175 486 1276Q599 1377 646 1472H763Z" transform="translate(124.795 944.100) scale(0.01221 -0.01194)"/></g></g>
<g transform="rotate(-45 203.21 944.10)"><g transform="translate(203.21 944.10) scale(1 1.035) translate(-203.21 -944.10)"><text class="t" x="203.21" y="944.10" text-anchor="end" style="font-size:25px"> 95</text><path d="M763 0H583V1147Q518 1085 412 1023Q306 961 222 930V1104Q373 1175 486 1276Q599 1377 646 1472H763Z" transform="translate(161.502 944.100) scale(0.01221 -0.01194)"/></g></g>
<g transform="rotate(-45 239.92 944.10)"><g transform="translate(239.92 944.10) scale(1 1.035) translate(-239.92 -944.10)"><text class="t" x="239.92" y="944.10" text-anchor="end" style="font-size:25px">200</text></g></g>
<g transform="rotate(-45 276.63 944.10)"><g transform="translate(276.63 944.10) scale(1 1.035) translate(-276.63 -944.10)"><text class="t" x="276.63" y="944.10" text-anchor="end" style="font-size:25px">205</text></g></g>
<g transform="rotate(-45 313.33 944.10)"><g transform="translate(313.33 944.10) scale(1 1.035) translate(-313.33 -944.10)"><text class="t" x="313.33" y="944.10" text-anchor="end" style="font-size:25px">2 0</text><path d="M763 0H583V1147Q518 1085 412 1023Q306 961 222 930V1104Q373 1175 486 1276Q599 1377 646 1472H763Z" transform="translate(285.526 944.100) scale(0.01221 -0.01194)"/></g></g>
<g transform="rotate(-45 350.04 944.10)"><g transform="translate(350.04 944.10) scale(1 1.035) translate(-350.04 -944.10)"><text class="t" x="350.04" y="944.10" text-anchor="end" style="font-size:25px">2 5</text><path d="M763 0H583V1147Q518 1085 412 1023Q306 961 222 930V1104Q373 1175 486 1276Q599 1377 646 1472H763Z" transform="translate(322.232 944.100) scale(0.01221 -0.01194)"/></g></g>
<g transform="rotate(-45 386.75 944.10)"><g transform="translate(386.75 944.10) scale(1 1.035) translate(-386.75 -944.10)"><text class="t" x="386.75" y="944.10" text-anchor="end" style="font-size:25px">220</text></g></g>
<g transform="rotate(-45 423.45 944.10)"><g transform="translate(423.45 944.10) scale(1 1.035) translate(-423.45 -944.10)"><text class="t" x="423.45" y="944.10" text-anchor="end" style="font-size:25px">225</text></g></g>
<g transform="rotate(-45 460.16 944.10)"><g transform="translate(460.16 944.10) scale(1 1.035) translate(-460.16 -944.10)"><text class="t" x="460.16" y="944.10" text-anchor="end" style="font-size:25px">230</text></g></g>
<g transform="rotate(-45 496.87 944.10)"><g transform="translate(496.87 944.10) scale(1 1.035) translate(-496.87 -944.10)"><text class="t" x="496.87" y="944.10" text-anchor="end" style="font-size:25px">235</text></g></g>
<g transform="rotate(-45 533.57 944.10)"><g transform="translate(533.57 944.10) scale(1 1.035) translate(-533.57 -944.10)"><text class="t" x="533.57" y="944.10" text-anchor="end" style="font-size:25px">240</text></g></g>
<g transform="rotate(-45 570.28 944.10)"><g transform="translate(570.28 944.10) scale(1 1.035) translate(-570.28 -944.10)"><text class="t" x="570.28" y="944.10" text-anchor="end" style="font-size:25px">245</text></g></g>
<g transform="rotate(-45 606.99 944.10)"><g transform="translate(606.99 944.10) scale(1 1.035) translate(-606.99 -944.10)"><text class="t" x="606.99" y="944.10" text-anchor="end" style="font-size:25px">250</text></g></g>
<g transform="rotate(-45 643.69 944.10)"><g transform="translate(643.69 944.10) scale(1 1.035) translate(-643.69 -944.10)"><text class="t" x="643.69" y="944.10" text-anchor="end" style="font-size:25px">255</text></g></g>
<g transform="rotate(-45 680.40 944.10)"><g transform="translate(680.40 944.10) scale(1 1.035) translate(-680.40 -944.10)"><text class="t" x="680.40" y="944.10" text-anchor="end" style="font-size:25px">260</text></g></g>
<text class="n" x="591.2" y="605.3">AfpB*</text>
<path d="M125.13,744.07 L125.96,741.48 L126.78,738.89 L127.58,736.30 L128.38,733.70 L129.16,731.10 L129.93,728.49 L130.69,725.89 L131.45,723.28 L132.19,720.66 L132.93,718.05 L133.66,715.43 L134.39,712.82 L135.11,710.20 L135.82,707.58 L136.53,704.95 L137.24,702.33 L137.94,699.71 L138.64,697.08 L139.34,694.45 L140.04,691.83 L140.74,689.20 L141.44,686.57 L142.14,683.95 L142.84,681.32 L143.55,678.69 L144.26,676.07 L144.97,673.44 L145.69,670.82 L146.41,668.20 L147.14,665.57 L147.88,662.95 L148.62,660.34 L149.37,657.72 L150.13,655.10 L150.90,652.49 L151.69,649.88 L152.48,647.27 L153.28,644.67 L154.09,642.06 L154.91,639.46 L155.74,636.87 L156.57,634.27 L157.41,631.68 L158.26,629.10 L159.12,626.51 L159.98,623.93 L160.85,621.36 L161.72,618.78 L162.60,616.22 L163.48,613.65 L164.37,611.09 L165.26,608.54 L166.15,605.99 L167.04,603.44 L167.94,600.90 L168.84,598.36 L169.73,595.83 L170.64,593.31 L171.60,590.79 L172.66,588.29 L173.88,585.80 L175.32,583.34 L177.03,580.89 L179.03,578.54 L181.21,576.63 L183.40,575.58 L185.51,575.59 L187.52,576.48 L189.43,578.04 L191.23,580.07 L192.92,582.35 L194.49,584.71 L195.95,587.11 L197.31,589.53 L198.58,591.99 L199.75,594.47 L200.85,596.98 L201.89,599.51 L202.86,602.06 L203.77,604.62 L204.64,607.20 L205.48,609.78 L206.29,612.38 L207.08,614.98 L207.86,617.59 L208.63,620.19 L209.39,622.80 L210.15,625.41 L210.90,628.02 L211.65,630.63 L212.39,633.25 L213.13,635.86 L213.87,638.47 L214.61,641.09 L215.34,643.70 L216.08,646.32 L216.81,648.93 L217.55,651.55 L218.28,654.16 L219.02,656.78 L219.76,659.39 L220.51,662.00 L221.26,664.61 L222.01,667.22 L222.77,669.83 L223.54,672.43 L224.31,675.03 L225.09,677.64 L225.88,680.24 L226.68,682.83 L227.48,685.43 L228.30,688.02 L229.13,690.61 L229.97,693.19 L230.82,695.77 L231.68,698.35 L232.56,700.93 L233.45,703.50 L234.36,706.06 L235.28,708.63 L236.22,711.18 L237.17,713.74 L238.15,716.29 L239.14,718.83 L240.15,721.37 L241.18,723.90 L242.23,726.43 L243.30,728.95 L244.39,731.47 L245.50,733.98 L246.65,736.47 L247.82,738.95 L249.03,741.41 L250.28,743.85 L251.57,746.25 L252.92,748.61 L254.31,750.94 L255.77,753.22 L257.28,755.44 L258.86,757.62 L260.51,759.73 L262.23,761.78 L264.03,763.76 L265.91,765.67 L267.88,767.49 L269.95,769.23 L272.10,770.89 L274.35,772.44 L276.69,773.89 L279.11,775.22 L281.60,776.41 L284.14,777.45 L286.74,778.33 L289.37,779.03 L292.04,779.55 L294.72,779.86 L297.42,779.98 L300.14,779.96 L302.86,779.83 L305.59,779.65 L308.33,779.46 L311.07,779.31 L313.81,779.25 L316.55,779.32 L319.28,779.52 L322.01,779.74 L324.72,779.88 L327.40,779.82 L330.06,779.52 L332.71,779.05 L335.35,778.48 L338.00,777.90 L340.66,777.36 L343.34,776.86 L346.03,776.39 L348.73,775.95 L351.44,775.52 L354.14,775.10 L356.84,774.67 L359.54,774.24 L362.24,773.78 L364.92,773.30 L367.58,772.77 L370.23,772.21 L372.86,771.59 L375.47,770.92 L378.07,770.20 L380.65,769.43 L383.21,768.61 L385.75,767.75 L388.29,766.86 L390.81,765.92 L393.32,764.95 L395.83,763.95 L398.32,762.91 L400.81,761.85 L403.29,760.76 L405.77,759.65 L408.24,758.52 L410.71,757.37 L413.18,756.21 L415.65,755.03 L418.12,753.84 L420.59,752.64 L423.07,751.44 L425.55,750.23 L428.04,749.02 L430.53,747.82 L433.03,746.63 L435.54,745.46 L438.05,744.30 L440.57,743.18 L443.09,742.08 L445.62,741.02 L448.16,739.99 L450.71,739.01 L453.27,738.08 L455.83,737.21 L458.41,736.39 L460.99,735.63 L463.58,734.95 L466.19,734.33 L468.80,733.80 L471.42,733.35 L474.06,732.98 L476.70,732.71 L479.36,732.53 L482.03,732.45 L484.70,732.45 L487.39,732.54 L490.09,732.69 L492.79,732.90 L495.50,733.16 L498.22,733.47 L500.94,733.80 L503.66,734.17 L506.39,734.54 L509.12,734.93 L511.85,735.31 L514.59,735.69 L517.32,736.04 L520.05,736.37 L522.78,736.65 L525.50,736.90 L528.22,737.09 L530.94,737.23 L533.66,737.33 L536.37,737.39 L539.08,737.41 L541.79,737.41 L544.50,737.38 L547.20,737.33 L549.91,737.26 L552.62,737.18 L555.32,737.09 L558.03,737.00 L560.74,736.91 L563.45,736.82 L566.16,736.74 L568.88,736.66 L571.59,736.59 L574.31,736.52 L577.02,736.46 L579.74,736.40 L582.46,736.34 L585.18,736.28 L587.90,736.23 L590.62,736.18 L593.35,736.14 L596.07,736.09 L598.79,736.05 L601.52,736.01 L604.24,735.97 L606.97,735.93 L609.69,735.89 L612.42,735.86 L615.15,735.82 L617.87,735.79 L620.60,735.75 L623.32,735.72 L626.05,735.69 L628.77,735.65 L631.50,735.62 L634.22,735.58 L636.95,735.54 L639.67,735.50 L642.39,735.46 L645.12,735.42 L647.84,735.38 L650.56,735.33 L653.28,735.29 L656.00,735.24 L658.71,735.18 L661.43,735.13 L664.14,735.07 L666.86,735.01 L669.57,734.94 L672.28,734.87 L674.99,734.80" fill="none" stroke="#119a2e" stroke-width="3.3" stroke-linejoin="round" stroke-linecap="round"/>
<path d="M124.91,734.71 L126.77,734.13 L128.70,733.58 L130.69,733.06 L132.73,732.57 L134.81,732.13 L136.93,731.74 L139.07,731.41 L141.24,731.15 L143.41,730.96 L145.58,730.86 L147.74,730.86 L149.89,730.95 L152.01,731.14 L154.09,731.45 L156.14,731.87 L158.14,732.40 L160.07,733.07 L161.94,733.86 L163.74,734.78 L165.45,735.85 L167.07,737.05 L168.62,738.38 L170.09,739.82 L171.49,741.35 L172.84,742.97 L174.14,744.67 L175.39,746.41 L176.60,748.21 L177.78,750.03 L178.94,751.86 L180.09,753.70 L181.22,755.54 L182.35,757.36 L183.46,759.18 L184.56,761.00 L185.65,762.81 L186.74,764.62 L187.80,766.44 L188.86,768.25 L189.91,770.07 L190.94,771.90 L191.96,773.74 L192.96,775.58 L193.96,777.43 L194.95,779.29 L195.93,781.15 L196.91,783.02 L197.88,784.88 L198.85,786.75 L199.82,788.62 L200.80,790.49 L201.78,792.35 L202.76,794.21 L203.75,796.07 L204.76,797.92 L205.77,799.77 L206.80,801.61 L207.84,803.44 L208.90,805.25 L209.98,807.06 L211.07,808.86 L212.19,810.64 L213.34,812.40 L214.51,814.16 L215.71,815.89 L216.93,817.61 L218.19,819.30 L219.48,820.98 L220.81,822.64 L222.17,824.27 L223.57,825.88 L225.01,827.46 L226.50,829.02 L228.03,830.55 L229.60,832.05 L231.21,833.49 L232.86,834.88 L234.56,836.20 L236.29,837.44 L238.06,838.60 L239.87,839.65 L241.72,840.59 L243.60,841.42 L245.52,842.11 L247.48,842.67 L249.46,843.07 L251.48,843.32 L253.52,843.41 L255.58,843.37 L257.65,843.19 L259.72,842.88 L261.79,842.46 L263.84,841.94 L265.88,841.33 L267.89,840.64 L269.88,839.88 L271.84,839.06 L273.77,838.17 L275.67,837.21 L277.54,836.20 L279.37,835.12 L281.16,833.98 L282.92,832.79 L284.63,831.54 L286.30,830.24 L287.92,828.88 L289.51,827.47 L291.05,826.03 L292.57,824.56 L294.07,823.06 L295.56,821.56 L297.05,820.05 L298.53,818.56 L300.03,817.08 L301.55,815.63 L303.10,814.21 L304.68,812.85 L306.30,811.53 L307.96,810.27 L309.65,809.06 L311.39,807.89 L313.15,806.77 L314.95,805.69 L316.77,804.64 L318.62,803.63 L320.49,802.64 L322.37,801.69 L324.28,800.75 L326.19,799.84 L328.12,798.94 L330.05,798.06 L331.99,797.18 L333.93,796.31 L335.87,795.45 L337.81,794.58 L339.74,793.71 L341.67,792.84 L343.59,791.97 L345.51,791.10 L347.43,790.23 L349.34,789.36 L351.26,788.50 L353.18,787.65 L355.10,786.80 L357.02,785.97 L358.95,785.15 L360.89,784.35 L362.83,783.56 L364.79,782.79 L366.75,782.04 L368.72,781.30 L370.70,780.59 L372.69,779.89 L374.68,779.20 L376.68,778.53 L378.68,777.87 L380.69,777.23 L382.71,776.59 L384.73,775.96 L386.75,775.33 L388.77,774.71 L390.79,774.10 L392.82,773.48 L394.84,772.86 L396.86,772.25 L398.88,771.62 L400.90,770.99 L402.91,770.35 L404.92,769.71 L406.92,769.05 L408.92,768.38 L410.91,767.69 L412.90,767.00 L414.88,766.29 L416.86,765.57 L418.83,764.84 L420.80,764.10 L422.77,763.36 L424.74,762.61 L426.71,761.86 L428.68,761.10 L430.64,760.34 L432.61,759.58 L434.59,758.82 L436.56,758.06 L438.54,757.30 L440.53,756.55 L442.52,755.81 L444.51,755.07 L446.51,754.34 L448.51,753.63 L450.52,752.92 L452.53,752.24 L454.54,751.57 L456.56,750.92 L458.59,750.29 L460.62,749.69 L462.66,749.11 L464.70,748.56 L466.74,748.04 L468.79,747.55 L470.85,747.09 L472.91,746.66 L474.98,746.26 L477.05,745.88 L479.12,745.53 L481.20,745.20 L483.28,744.89 L485.36,744.60 L487.45,744.33 L489.54,744.08 L491.63,743.83 L493.73,743.60 L495.82,743.38 L497.92,743.17 L500.02,742.97 L502.12,742.77 L504.22,742.57 L506.32,742.38 L508.42,742.19 L510.53,741.99 L512.63,741.80 L514.73,741.61 L516.84,741.41 L518.94,741.22 L521.04,741.02 L523.14,740.83 L525.25,740.64 L527.35,740.45 L529.46,740.26 L531.56,740.07 L533.66,739.88 L535.77,739.70 L537.87,739.51 L539.98,739.33 L542.08,739.16 L544.19,738.98 L546.29,738.81 L548.40,738.64 L550.50,738.47 L552.61,738.31 L554.72,738.16 L556.82,738.00 L558.93,737.85 L561.03,737.71 L563.14,737.57 L565.25,737.44 L567.36,737.31 L569.46,737.18 L571.57,737.07 L573.68,736.95 L575.79,736.85 L577.90,736.75 L580.00,736.66 L582.11,736.57 L584.22,736.49 L586.33,736.41 L588.44,736.34 L590.55,736.28 L592.66,736.22 L594.77,736.17 L596.88,736.12 L598.99,736.07 L601.10,736.03 L603.21,735.99 L605.32,735.95 L607.43,735.92 L609.54,735.89 L611.65,735.86 L613.76,735.84 L615.88,735.81 L617.99,735.79 L620.10,735.77 L622.21,735.75 L624.32,735.73 L626.43,735.71 L628.54,735.70 L630.66,735.68 L632.77,735.66 L634.88,735.64 L636.99,735.62 L639.10,735.60 L641.22,735.58 L643.33,735.55 L645.44,735.53 L647.55,735.50 L649.66,735.47 L651.77,735.44 L653.89,735.40 L656.00,735.36 L658.11,735.32 L660.22,735.27 L662.33,735.22 L664.44,735.16 L666.56,735.10 L668.67,735.04 L670.78,734.96 L672.89,734.89 L675.00,734.81" fill="none" stroke="#1a5488" stroke-width="3.3" stroke-linejoin="round" stroke-linecap="round"/>
<path d="M124.86,725.26 L126.65,723.80 L128.57,722.49 L130.62,721.37 L132.74,720.44 L134.92,719.72 L137.12,719.22 L139.31,718.97 L141.47,718.96 L143.56,719.23 L145.54,719.78 L147.41,720.63 L149.16,721.73 L150.81,723.06 L152.36,724.57 L153.83,726.23 L155.23,728.00 L156.57,729.84 L157.86,731.71 L159.11,733.61 L160.31,735.51 L161.48,737.43 L162.61,739.35 L163.70,741.29 L164.76,743.24 L165.79,745.20 L166.79,747.17 L167.76,749.15 L168.71,751.14 L169.63,753.13 L170.54,755.14 L171.42,757.15 L172.28,759.16 L173.12,761.19 L173.96,763.22 L174.77,765.25 L175.58,767.29 L176.38,769.33 L177.17,771.38 L177.96,773.43 L178.74,775.48 L179.52,777.54 L180.31,779.59 L181.09,781.65 L181.88,783.71 L182.67,785.77 L183.48,787.83 L184.29,789.88 L185.11,791.94 L185.95,793.99 L186.80,796.04 L187.67,798.09 L188.56,800.14 L189.46,802.18 L190.39,804.21 L191.33,806.23 L192.29,808.24 L193.28,810.25 L194.29,812.24 L195.32,814.21 L196.38,816.17 L197.46,818.12 L198.57,820.04 L199.70,821.95 L200.86,823.84 L202.05,825.71 L203.26,827.55 L204.51,829.37 L205.79,831.16 L207.10,832.93 L208.44,834.66 L209.81,836.37 L211.21,838.05 L212.66,839.69 L214.13,841.30 L215.64,842.88 L217.19,844.42 L218.78,845.92 L220.40,847.39 L222.07,848.81 L223.77,850.19 L225.51,851.53 L227.30,852.82 L229.12,854.06 L230.98,855.25 L232.89,856.38 L234.83,857.46 L236.82,858.47 L238.85,859.43 L240.91,860.32 L243.02,861.14 L245.17,861.89 L247.35,862.56 L249.55,863.13 L251.75,863.58 L253.95,863.91 L256.13,864.09 L258.28,864.12 L260.38,863.97 L262.43,863.63 L264.41,863.08 L266.32,862.32 L268.13,861.32 L269.87,860.12 L271.53,858.75 L273.14,857.23 L274.71,855.60 L276.25,853.89 L277.77,852.13 L279.28,850.36 L280.80,848.59 L282.35,846.87 L283.92,845.23 L285.53,843.69 L287.19,842.25 L288.89,840.88 L290.61,839.58 L292.36,838.32 L294.12,837.08 L295.89,835.83 L297.66,834.57 L299.44,833.29 L301.22,831.99 L303.00,830.68 L304.78,829.36 L306.57,828.04 L308.37,826.72 L310.17,825.39 L311.98,824.08 L313.80,822.77 L315.63,821.48 L317.47,820.20 L319.32,818.95 L321.19,817.72 L323.06,816.52 L324.95,815.35 L326.86,814.22 L328.78,813.13 L330.71,812.08 L332.66,811.06 L334.63,810.09 L336.61,809.15 L338.60,808.24 L340.61,807.37 L342.62,806.53 L344.66,805.72 L346.70,804.94 L348.75,804.19 L350.81,803.46 L352.88,802.76 L354.97,802.08 L357.06,801.42 L359.16,800.79 L361.26,800.17 L363.38,799.57 L365.50,798.98 L367.62,798.41 L369.75,797.85 L371.89,797.30 L374.03,796.76 L376.17,796.23 L378.32,795.71 L380.47,795.19 L382.63,794.68 L384.78,794.17 L386.94,793.66 L389.09,793.15 L391.25,792.64 L393.41,792.12 L395.56,791.60 L397.71,791.07 L399.87,790.54 L402.01,790.00 L404.16,789.44 L406.30,788.88 L408.44,788.30 L410.57,787.70 L412.70,787.09 L414.83,786.47 L416.95,785.83 L419.06,785.18 L421.18,784.52 L423.29,783.85 L425.39,783.17 L427.49,782.47 L429.59,781.77 L431.69,781.05 L433.78,780.33 L435.87,779.60 L437.96,778.86 L440.04,778.12 L442.13,777.37 L444.21,776.61 L446.29,775.85 L448.36,775.08 L450.44,774.31 L452.51,773.54 L454.59,772.76 L456.66,771.98 L458.73,771.20 L460.80,770.41 L462.87,769.63 L464.94,768.84 L467.01,768.06 L469.08,767.28 L471.15,766.50 L473.22,765.72 L475.29,764.94 L477.37,764.17 L479.44,763.40 L481.51,762.63 L483.59,761.87 L485.66,761.12 L487.74,760.37 L489.82,759.63 L491.90,758.90 L493.98,758.17 L496.07,757.45 L498.15,756.74 L500.24,756.04 L502.34,755.35 L504.43,754.68 L506.53,754.01 L508.63,753.35 L510.74,752.71 L512.85,752.08 L514.96,751.46 L517.07,750.86 L519.19,750.27 L521.32,749.70 L523.45,749.15 L525.58,748.61 L527.72,748.08 L529.86,747.57 L532.00,747.08 L534.15,746.60 L536.31,746.14 L538.47,745.69 L540.63,745.26 L542.79,744.84 L544.96,744.44 L547.13,744.05 L549.31,743.67 L551.49,743.30 L553.67,742.95 L555.85,742.61 L558.04,742.28 L560.23,741.96 L562.42,741.66 L564.62,741.37 L566.81,741.08 L569.01,740.81 L571.22,740.55 L573.42,740.30 L575.62,740.06 L577.83,739.82 L580.04,739.60 L582.25,739.39 L584.46,739.18 L586.67,738.99 L588.89,738.80 L591.10,738.62 L593.32,738.44 L595.53,738.28 L597.75,738.12 L599.97,737.96 L602.19,737.82 L604.41,737.68 L606.63,737.54 L608.84,737.41 L611.06,737.29 L613.28,737.17 L615.50,737.06 L617.72,736.95 L619.94,736.84 L622.15,736.74 L624.37,736.64 L626.59,736.54 L628.80,736.45 L631.01,736.36 L633.23,736.27 L635.44,736.18 L637.65,736.10 L639.86,736.02 L642.06,735.94 L644.27,735.86 L646.47,735.77 L648.67,735.69 L650.87,735.61 L653.07,735.53 L655.26,735.45 L657.45,735.37 L659.64,735.29 L661.83,735.20 L664.01,735.12 L666.19,735.03 L668.37,734.94 L670.55,734.85 L672.72,734.75 L674.89,734.65" fill="none" stroke="#e5141c" stroke-width="3.3" stroke-linejoin="round" stroke-linecap="round"/>
<path d="M124.98,730.20 L126.85,730.00 L128.76,729.81 L130.70,729.61 L132.68,729.42 L134.67,729.24 L136.69,729.08 L138.73,728.94 L140.77,728.83 L142.82,728.76 L144.87,728.73 L146.92,728.75 L148.97,728.82 L151.00,728.94 L153.01,729.14 L155.01,729.40 L156.98,729.74 L158.92,730.16 L160.82,730.67 L162.69,731.27 L164.51,731.98 L166.28,732.78 L168.01,733.69 L169.69,734.69 L171.34,735.76 L172.94,736.91 L174.52,738.12 L176.06,739.39 L177.58,740.70 L179.07,742.04 L180.54,743.42 L181.99,744.81 L183.43,746.23 L184.85,747.66 L186.25,749.11 L187.65,750.56 L189.03,752.01 L190.39,753.48 L191.73,754.96 L193.05,756.45 L194.35,757.95 L195.63,759.47 L196.89,761.00 L198.14,762.54 L199.36,764.10 L200.57,765.67 L201.76,767.25 L202.94,768.85 L204.10,770.45 L205.25,772.07 L206.38,773.71 L207.50,775.35 L208.60,777.01 L209.70,778.67 L210.79,780.35 L211.88,782.02 L212.98,783.69 L214.08,785.36 L215.20,787.01 L216.35,788.65 L217.51,790.27 L218.71,791.86 L219.95,793.42 L221.22,794.96 L222.55,796.45 L223.91,797.91 L225.33,799.32 L226.78,800.69 L228.28,802.03 L229.82,803.32 L231.40,804.56 L233.02,805.76 L234.67,806.92 L236.36,808.03 L238.08,809.09 L239.84,810.10 L241.63,811.07 L243.45,811.98 L245.29,812.84 L247.16,813.64 L249.06,814.36 L250.96,815.00 L252.88,815.54 L254.80,815.97 L256.73,816.28 L258.65,816.47 L260.57,816.51 L262.48,816.40 L264.37,816.15 L266.26,815.76 L268.13,815.26 L269.99,814.65 L271.85,813.95 L273.69,813.17 L275.53,812.33 L277.36,811.44 L279.18,810.51 L280.99,809.55 L282.80,808.58 L284.61,807.62 L286.41,806.67 L288.20,805.74 L290.00,804.83 L291.79,803.94 L293.59,803.08 L295.40,802.24 L297.21,801.42 L299.03,800.64 L300.86,799.88 L302.70,799.16 L304.56,798.46 L306.44,797.80 L308.33,797.15 L310.22,796.53 L312.13,795.92 L314.04,795.32 L315.96,794.72 L317.87,794.12 L319.79,793.51 L321.70,792.89 L323.61,792.25 L325.50,791.59 L327.39,790.90 L329.27,790.19 L331.14,789.45 L333.00,788.69 L334.85,787.92 L336.70,787.15 L338.55,786.37 L340.40,785.59 L342.25,784.83 L344.10,784.08 L345.96,783.35 L347.83,782.65 L349.71,781.97 L351.59,781.34 L353.49,780.74 L355.40,780.17 L357.32,779.63 L359.24,779.12 L361.18,778.64 L363.12,778.18 L365.07,777.74 L367.02,777.32 L368.98,776.91 L370.94,776.52 L372.91,776.13 L374.87,775.75 L376.84,775.37 L378.81,775.00 L380.78,774.62 L382.75,774.24 L384.72,773.85 L386.69,773.45 L388.65,773.04 L390.61,772.61 L392.56,772.17 L394.51,771.71 L396.46,771.22 L398.40,770.71 L400.33,770.19 L402.26,769.64 L404.18,769.08 L406.10,768.51 L408.02,767.92 L409.93,767.31 L411.84,766.70 L413.75,766.08 L415.66,765.45 L417.56,764.81 L419.46,764.17 L421.36,763.52 L423.26,762.88 L425.16,762.23 L427.06,761.58 L428.96,760.93 L430.86,760.28 L432.76,759.64 L434.66,759.01 L436.57,758.38 L438.47,757.76 L440.38,757.15 L442.29,756.55 L444.20,755.96 L446.12,755.39 L448.04,754.84 L449.96,754.30 L451.89,753.78 L453.82,753.27 L455.75,752.79 L457.69,752.32 L459.63,751.86 L461.58,751.43 L463.53,751.00 L465.48,750.60 L467.44,750.21 L469.40,749.83 L471.36,749.46 L473.33,749.11 L475.30,748.77 L477.27,748.45 L479.24,748.13 L481.21,747.83 L483.19,747.54 L485.17,747.25 L487.15,746.98 L489.13,746.72 L491.12,746.46 L493.10,746.22 L495.09,745.98 L497.08,745.75 L499.07,745.53 L501.06,745.31 L503.05,745.10 L505.04,744.89 L507.03,744.69 L509.03,744.50 L511.02,744.31 L513.01,744.12 L515.01,743.94 L517.00,743.76 L519.00,743.59 L520.99,743.42 L522.99,743.25 L524.98,743.09 L526.98,742.93 L528.97,742.78 L530.97,742.63 L532.97,742.48 L534.96,742.34 L536.96,742.20 L538.96,742.06 L540.96,741.93 L542.95,741.80 L544.95,741.68 L546.95,741.55 L548.95,741.43 L550.95,741.32 L552.95,741.20 L554.95,741.09 L556.95,740.98 L558.95,740.88 L560.95,740.77 L562.95,740.67 L564.95,740.57 L566.95,740.48 L568.95,740.38 L570.95,740.29 L572.95,740.20 L574.95,740.11 L576.95,740.03 L578.95,739.94 L580.95,739.86 L582.95,739.78 L584.95,739.70 L586.96,739.62 L588.96,739.55 L590.96,739.47 L592.96,739.40 L594.96,739.33 L596.96,739.26 L598.97,739.19 L600.97,739.12 L602.97,739.05 L604.97,738.98 L606.97,738.92 L608.98,738.85 L610.98,738.79 L612.98,738.72 L614.98,738.66 L616.98,738.59 L618.99,738.53 L620.99,738.47 L622.99,738.40 L624.99,738.34 L626.99,738.28 L628.99,738.22 L630.99,738.15 L633.00,738.09 L635.00,738.02 L637.00,737.96 L639.00,737.90 L641.00,737.83 L643.00,737.76 L645.00,737.70 L647.00,737.63 L649.00,737.56 L651.00,737.49 L653.00,737.42 L655.00,737.35 L657.00,737.28 L659.00,737.20 L661.00,737.13 L663.00,737.05 L665.00,736.97 L667.00,736.90 L669.00,736.81 L670.99,736.73 L672.99,736.65 L674.99,736.56" fill="none" stroke="#f29642" stroke-width="3.3" stroke-linejoin="round" stroke-linecap="round"/>
<text class="L" x="0" y="0" style="font-size:43.4px" transform="translate(2.2 25) scale(0.85 1)">a</text>
<text class="L" x="2" y="529.3">b</text>
<text class="T" x="0" y="0" text-anchor="middle" transform="translate(70.9 234.8) rotate(-90)">θ (mdeg)</text>
<text class="T" x="0" y="0" text-anchor="middle" transform="translate(70.9 740.2) rotate(-90)">θ (mdeg)</text>
<text class="X" x="420" y="1015.2" text-anchor="middle">λ (nm)</text>
</svg></div>
</body></html>
